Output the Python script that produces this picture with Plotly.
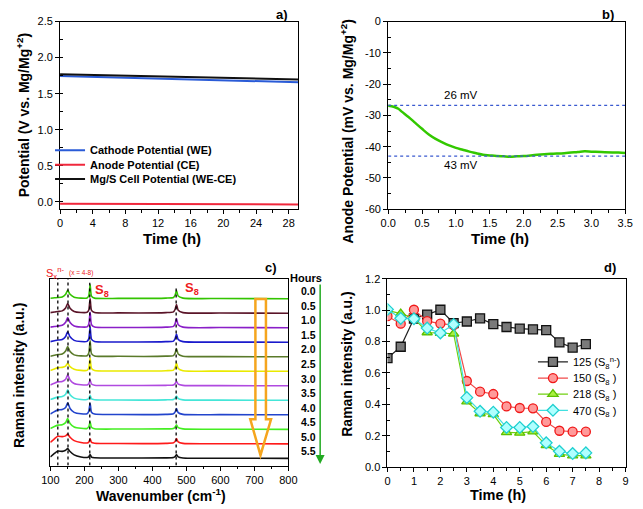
import plotly.graph_objects as go

FONT = "Liberation Sans, Arial, sans-serif"
PAGE_W, PAGE_H = 643, 509
OFF = 8  # default body margin of the html page
W, H = PAGE_W - OFF, PAGE_H - OFF

# ---------------- Panel a data ----------------
a_time = [0, 4, 8, 12, 16, 20, 24, 29.2]
a_cathode = [1.745, 1.732, 1.720, 1.708, 1.697, 1.685, 1.672, 1.658]
a_anode = [-0.025, -0.026, -0.027, -0.028, -0.029, -0.030, -0.031, -0.033]
a_cell = [1.768, 1.757, 1.746, 1.735, 1.726, 1.716, 1.706, 1.697]
a_names = ["Cathode Potential (WE)", "Anode Potential (CE)", "Mg/S Cell Potential (WE-CE)"]

# ---------------- Panel b data ----------------
b_time = [0, 0.05, 0.1, 0.15, 0.2, 0.3, 0.4, 0.5, 0.6, 0.7, 0.8, 0.9, 1.0, 1.1, 1.2,
          1.3, 1.4, 1.5, 1.6, 1.7, 1.8, 1.9, 2.0, 2.2, 2.4, 2.6, 2.8, 2.9, 3.0, 3.2, 3.4, 3.5]
b_anode = [-26.9, -27.1, -27.4, -27.9, -28.8, -30.5, -32.4, -34.3, -36.1, -37.5, -38.6,
           -39.6, -40.4, -41.0, -41.6, -42.1, -42.6, -42.8, -43.0, -43.1, -43.2, -43.1,
           -43.0, -42.6, -42.3, -42.1, -41.7, -41.5, -41.6, -41.8, -41.9, -42.0]
b_ref_levels = [-26.8, -43.0]
b_ref_labels = ["26 mV", "43 mV"]

# ---------------- Panel c data ----------------
c_wavenumber = [100, 112, 122, 135, 145, 151, 158, 170, 190, 208, 213, 217, 221, 230,
                300, 440, 462, 467, 471, 476, 490, 600, 800]
c_hours = ["0.0", "0.5", "1.0", "1.5", "2.0", "2.5", "3.0", "3.5", "4.0", "4.5", "5.0", "5.5"]
c_colors = ["#33c400", "#5a1428", "#8a1fc8", "#1a1acc", "#5a7a2a", "#eaea00",
            "#b04ae0", "#44e6d8", "#2244cc", "#44ee22", "#ff1a1a", "#111111"]
c_spectra = [
    [0.03, 0.06, 0.08, 0.12, 0.30, 0.58, 0.30, 0.10, 0.04, 0.05, 0.20, 0.96, 0.18, 0.04, 0.02, 0.04, 0.08, 0.25, 0.56, 0.18, 0.04, 0.01, 0.0],
    [0.04, 0.08, 0.12, 0.16, 0.36, 0.67, 0.34, 0.12, 0.05, 0.06, 0.22, 1.00, 0.20, 0.05, 0.02, 0.04, 0.09, 0.27, 0.60, 0.20, 0.04, 0.01, 0.0],
    [0.04, 0.08, 0.12, 0.17, 0.38, 0.70, 0.36, 0.12, 0.05, 0.06, 0.24, 1.07, 0.22, 0.05, 0.02, 0.04, 0.09, 0.28, 0.63, 0.21, 0.04, 0.01, 0.0],
    [0.04, 0.10, 0.15, 0.19, 0.40, 0.72, 0.37, 0.13, 0.05, 0.06, 0.23, 1.05, 0.21, 0.05, 0.02, 0.04, 0.08, 0.25, 0.56, 0.19, 0.04, 0.01, 0.0],
    [0.04, 0.10, 0.15, 0.19, 0.39, 0.70, 0.36, 0.13, 0.06, 0.07, 0.25, 1.10, 0.22, 0.06, 0.03, 0.04, 0.08, 0.25, 0.56, 0.19, 0.04, 0.01, 0.0],
    [0.05, 0.15, 0.25, 0.27, 0.35, 0.55, 0.32, 0.14, 0.06, 0.06, 0.22, 0.92, 0.20, 0.05, 0.02, 0.04, 0.08, 0.25, 0.56, 0.19, 0.04, 0.01, 0.0],
    [0.06, 0.18, 0.27, 0.30, 0.45, 0.76, 0.40, 0.16, 0.07, 0.06, 0.14, 0.40, 0.12, 0.04, 0.02, 0.03, 0.06, 0.15, 0.31, 0.12, 0.03, 0.01, 0.0],
    [0.05, 0.15, 0.22, 0.26, 0.42, 0.72, 0.38, 0.15, 0.06, 0.05, 0.12, 0.34, 0.10, 0.04, 0.02, 0.03, 0.06, 0.14, 0.29, 0.11, 0.03, 0.01, 0.0],
    [0.06, 0.22, 0.34, 0.36, 0.50, 0.83, 0.44, 0.17, 0.07, 0.07, 0.25, 0.80, 0.18, 0.05, 0.02, 0.03, 0.07, 0.20, 0.43, 0.15, 0.03, 0.01, 0.0],
    [0.06, 0.20, 0.29, 0.32, 0.46, 0.74, 0.40, 0.16, 0.07, 0.06, 0.18, 0.52, 0.14, 0.04, 0.02, 0.03, 0.06, 0.15, 0.31, 0.12, 0.03, 0.01, 0.0],
    [0.10, 0.35, 0.52, 0.50, 0.55, 0.67, 0.45, 0.22, 0.09, 0.06, 0.12, 0.34, 0.10, 0.04, 0.02, 0.03, 0.07, 0.17, 0.36, 0.13, 0.03, 0.01, 0.0],
    [0.10, 0.34, 0.50, 0.48, 0.56, 0.67, 0.47, 0.24, 0.10, 0.06, 0.10, 0.27, 0.09, 0.04, 0.02, 0.03, 0.06, 0.13, 0.27, 0.10, 0.03, 0.01, 0.0],
]
c_marker_lines = [122, 152, 216, 470]

# ---------------- Panel d data ----------------
d_time = [0, 0.5, 1, 1.5, 2, 2.5, 3, 3.5, 4, 4.5, 5, 5.5, 6, 6.5, 7, 7.5]
d_125 = [0.695, 0.767, 0.947, 0.972, 1.003, 0.918, 0.928, 0.948, 0.911, 0.893, 0.883, 0.878, 0.873, 0.795, 0.761, 0.784]
d_150 = [0.962, 0.914, 1.003, 0.930, 0.915, 0.905, 0.549, 0.481, 0.466, 0.387, 0.377, 0.375, 0.288, 0.232, 0.226, 0.226]
d_218 = [0.999, 0.978, 0.950, 0.858, 0.854, 0.850, 0.418, 0.342, 0.336, 0.222, 0.218, 0.226, 0.139, 0.083, 0.073, 0.073]
d_470 = [1.005, 0.948, 0.945, 0.886, 0.855, 0.909, 0.443, 0.356, 0.350, 0.253, 0.253, 0.259, 0.155, 0.101, 0.087, 0.091]
d_names = ["125 (S<sub>8</sub><sup>n-</sup>)", "150 (S<sub>8</sub> )", "218 (S<sub>8</sub> )", "470 (S<sub>8</sub> )"]


def px_x(p):
    return (p - OFF) / W


def px_y(p):
    return 1 - (p - OFF) / H


fig = go.Figure()
legends = {}

# Panel a (one legend box per entry so row spacing can match)
a_rows = [147.5, 162.5, 177]
for k, (name, ys, col) in enumerate(zip(a_names, [a_cathode, a_anode, a_cell],
                                        ["#2a5bd7", "#f0283c", "#111111"])):
    lg = "legend" if k == 0 else "legend%d" % (k + 2)
    legends[lg] = dict(x=px_x(42), y=px_y(a_rows[k]), xanchor="left", yanchor="middle",
                       bgcolor="rgba(0,0,0,0)", font=dict(size=11, family=FONT),
                       itemwidth=30)
    fig.add_trace(go.Scatter(x=a_time, y=ys, mode="lines", name="<b>%s</b>" % name,
                             line=dict(color=col, width=2), xaxis="x", yaxis="y",
                             legend=lg))

# Panel b
fig.add_trace(go.Scatter(x=b_time, y=b_anode, mode="lines", showlegend=False,
                         line=dict(color="#33c800", width=2.5, shape="spline"),
                         xaxis="x2", yaxis="y2"))
for lvl in b_ref_levels:
    fig.add_trace(go.Scatter(x=[0, 3.5], y=[lvl, lvl], mode="lines", showlegend=False,
                             line=dict(color="#3a5ad0", width=1.3, dash="dot"),
                             xaxis="x2", yaxis="y2"))

# Panel c
C_TOP = 12.87
for i, (spec, col) in enumerate(zip(c_spectra, c_colors)):
    base = 11.5 - i
    fig.add_trace(go.Scatter(x=c_wavenumber, y=[base + v for v in spec], mode="lines",
                             showlegend=False,
                             line=dict(color=col, width=1.6, shape="spline", smoothing=0.6),
                             xaxis="x3", yaxis="y3"))

# Panel d
d_style = [
    ("#222222", "square", "#7a7a7a", "#111111"),
    ("#f04a4a", "circle", "#ff9a9a", "#f01818"),
    ("#70d010", "triangle-up", "#a8f040", "#5cc000"),
    ("#40e0e0", "diamond", "#b0ffff", "#20d0d0"),
]
d_rows = [364.5, 381, 397.5, 414]
for k, (name, ys, (lc, sym, fc, mc)) in enumerate(zip(d_names, [d_125, d_150, d_218, d_470], d_style)):
    lg = "legend%d" % (k + 5)
    legends[lg] = dict(x=px_x(539), y=px_y(d_rows[k]), xanchor="left", yanchor="middle",
                       bgcolor="rgba(0,0,0,0)", font=dict(size=11, family=FONT),
                       itemwidth=30)
    fig.add_trace(go.Scatter(x=d_time, y=ys, mode="lines+markers", name=name,
                             line=dict(color=lc, width=1.2),
                             marker=dict(symbol=sym, size=9, color=fc, line=dict(color=mc, width=1.3)),
                             xaxis="x4", yaxis="y4", legend=lg))

base_axis = dict(showline=True, linecolor="black", linewidth=1, mirror=True,
                 ticks="outside", ticklen=4, tickcolor="black", showgrid=False,
                 zeroline=False, tickfont=dict(size=11, color="black", family=FONT))


def ax(**kw):
    d = dict(base_axis)
    d.update(kw)
    return d


dom_a_x = [px_x(52.3), px_x(297.7)]
dom_b_x = [px_x(390), px_x(634)]
dom_top_y = [px_y(208), px_y(15.7)]
dom_c_x = [px_x(42.3), px_x(287.3)]
dom_c_y = [px_y(470.7), px_y(279.3)]
dom_d_x = [px_x(389.3), px_x(634.3)]
dom_d_y = [px_y(472.3), px_y(279.3)]

minor_in = lambda dt: dict(ticks="inside", ticklen=2.5, tickcolor="black", dtick=dt)
minor_out = lambda dt: dict(ticks="outside", ticklen=2.5, tickcolor="black", dtick=dt)

fig.update_layout(
    width=W, height=H, margin=dict(l=0, r=0, t=0, b=0),
    paper_bgcolor="white", plot_bgcolor="white",
    font=dict(family=FONT, color="black"),
    xaxis=ax(domain=dom_a_x, anchor="y", range=[0, 29.2], tickvals=[0, 4, 8, 12, 16, 20, 24, 28],
             minor=minor_out(2)),
    yaxis=ax(domain=dom_top_y, anchor="x", range=[-0.1, 2.5], dtick=0.5, tick0=0, tickformat=".1f",
             minor=minor_in(0.25)),
    xaxis2=ax(domain=dom_b_x, anchor="y2", range=[0, 3.5], dtick=0.5, tick0=0, tickformat=".1f",
              minor=minor_out(0.25)),
    yaxis2=ax(domain=dom_top_y, anchor="x2", range=[-60, 0], tickvals=[-60, -50, -40, -30, -20, -10, 0],
              ticktext=["-60", "-50", "-40", "-30", "-20", "-10", "0"], minor=minor_in(5)),
    xaxis3=ax(domain=dom_c_x, anchor="y3", range=[100, 800], dtick=100, tick0=0,
              minor=minor_out(50)),
    yaxis3=ax(domain=dom_c_y, anchor="x3", range=[0, C_TOP], ticks="", showticklabels=False),
    xaxis4=ax(domain=dom_d_x, anchor="y4", range=[0, 9], dtick=1, tick0=0, minor=minor_out(0.5)),
    yaxis4=ax(domain=dom_d_y, anchor="x4", range=[0, 1.2], dtick=0.2, tick0=0, tickformat=".1f",
              minor=minor_in(0.1)),
    **legends,
)

ann = []


def add_text(text, x, y, size=11, bold=False, color="black", angle=0, xref="paper", yref="paper",
             xanchor="center", yanchor="middle"):
    ann.append(dict(text=("<b>%s</b>" % text) if bold else text, x=x, y=y, xref=xref, yref=yref,
                    showarrow=False, font=dict(size=size, color=color, family=FONT),
                    textangle=angle, xanchor=xanchor, yanchor=yanchor))


# axis titles
add_text("Potential (V vs. Mg/Mg<sup>+2</sup>)", px_x(14), px_y(112), size=14, bold=True, angle=-90)
add_text("Time (h)", px_x(168), px_y(238), size=15, bold=True)
add_text("Anode Potential (mV vs. Mg/Mg<sup>+2</sup>)", px_x(348), px_y(128), size=14, bold=True, angle=-90)
add_text("Time (h)", px_x(505), px_y(238), size=15, bold=True)
add_text("Raman intensity (a.u.)", px_x(10), px_y(378), size=14, bold=True, angle=-90)
add_text("Wavenumber (cm<sup>-1</sup>)", px_x(156), px_y(500.5), size=14, bold=True)
add_text("Raman intensity (a.u.)", px_x(348), px_y(367), size=14, bold=True, angle=-90)
add_text("Time (h)", px_x(503), px_y(501), size=14.5, bold=True)

# panel labels
add_text("a)", px_x(281), px_y(8.5), size=13, bold=True)
add_text("b)", px_x(616), px_y(8.5), size=13, bold=True)
add_text("c)", px_x(269), px_y(268), size=13, bold=True)
add_text("d)", px_x(618), px_y(268), size=13, bold=True)

# panel b labels
add_text(b_ref_labels[0], px_x(465), px_y(91), size=11.5)
add_text(b_ref_labels[1], px_x(465), px_y(163), size=11.5)

# panel c labels
add_text("S<sub>x</sub><sup>n-</sup>", px_x(36), px_y(273), size=11, color="#ee2020", xanchor="left")
add_text("(x = 4-8)", px_x(59), px_y(273.5), size=6.5, color="#ee2020", xanchor="left")
add_text("S<sub>8</sub>", px_x(86), px_y(291), size=13, bold=True, color="#ee2020", xanchor="left")
add_text("S<sub>8</sub>", px_x(179), px_y(289), size=13, bold=True, color="#ee2020", xanchor="left")
add_text("Hours", px_x(305), px_y(278), size=11, bold=True)
for i, hr in enumerate(c_hours):
    add_text(hr, px_x(308), 11.5 - i + 0.5, size=10.5, bold=True, yref="y3")

# green arrow
ann.append(dict(x=px_x(320), y=px_y(469), xref="paper", yref="paper", ax=0, ay=-181,
                showarrow=True, arrowhead=2, arrowsize=1.2,
                arrowwidth=1.5, arrowcolor="#22aa22", text=""))
fig.update_layout(annotations=ann)

shapes = []
tops = [C_TOP, C_TOP, 12.6, 12.2]
for wn, top in zip(c_marker_lines, tops):
    shapes.append(dict(type="line", xref="x3", yref="y3", x0=wn, x1=wn, y0=0, y1=top,
                       line=dict(color="black", width=1.3, dash="dot")))
# hollow orange arrow
shapes.append(dict(type="path", xref="x3", yref="y3",
                   path="M 703,11.48 L 734,11.48 L 734,3.19 L 749,3.19 L 718,0.72 L 688,3.19 L 703,3.19 Z",
                   line=dict(color="#f5a51e", width=2.5), fillcolor="rgba(0,0,0,0)"))
fig.update_layout(shapes=shapes)

fig.write_html("out.html")
